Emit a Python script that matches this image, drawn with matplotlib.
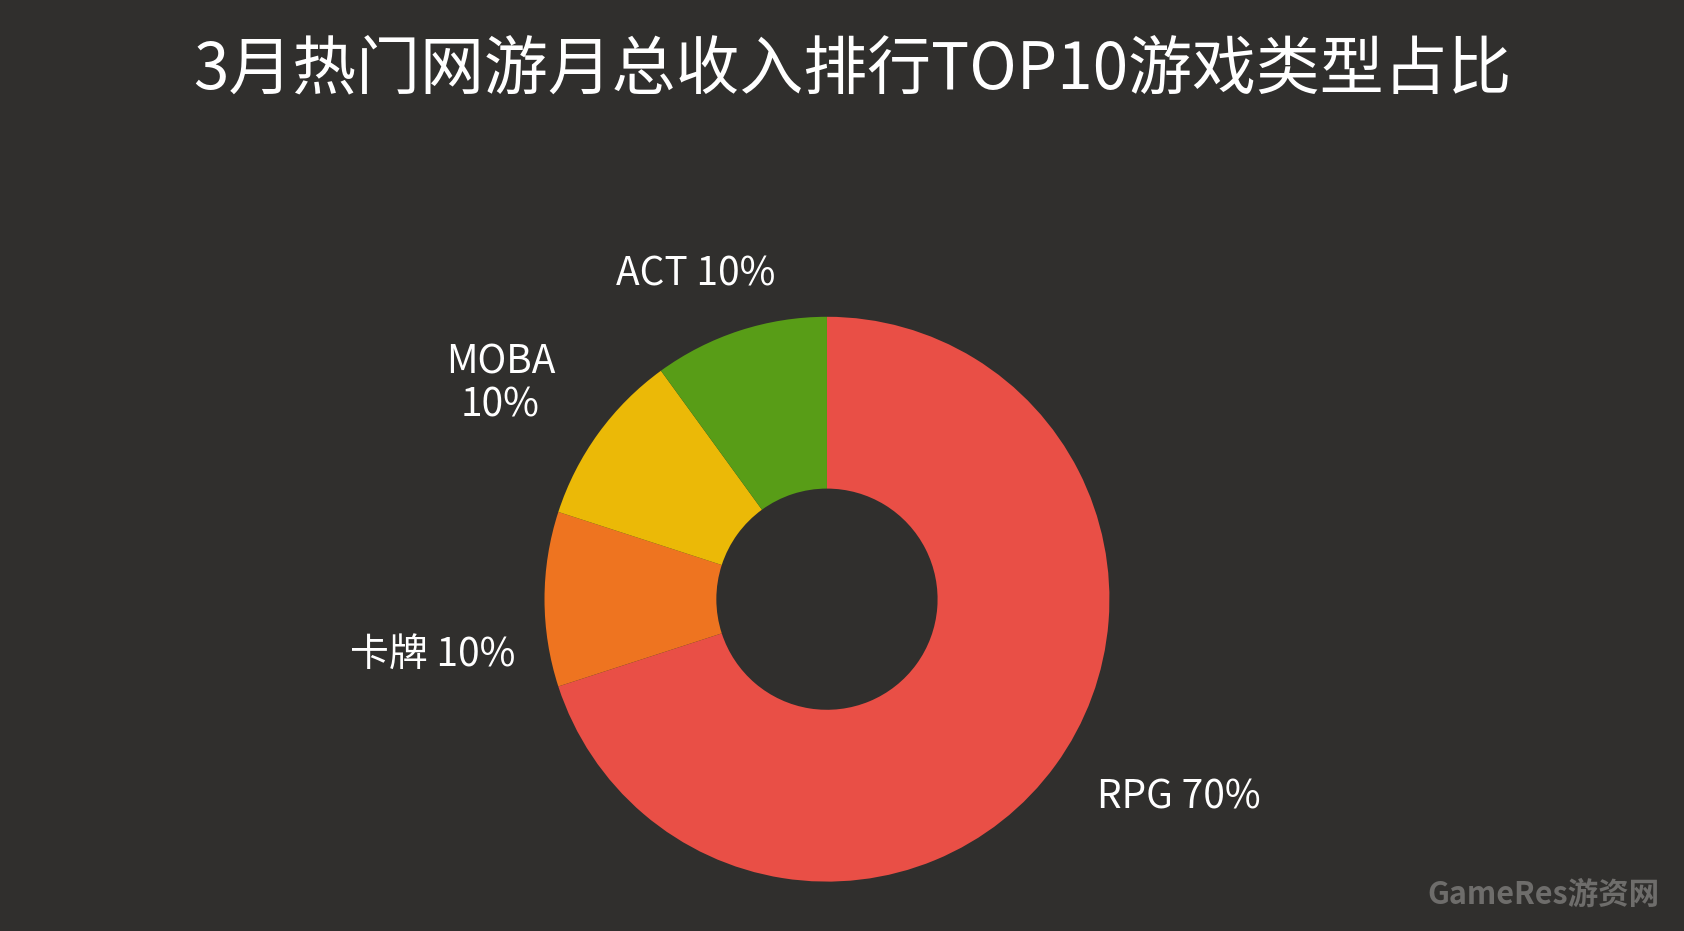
import matplotlib
matplotlib.use("Agg")
import matplotlib.pyplot as plt

categories = ["RPG", "卡牌", "MOBA", "ACT"]
values = [70, 10, 10, 10]
label_texts = ["RPG 70%", "卡牌 10%", "MOBA\n10%", "ACT 10%"]
colors = ["#E94F46", "#EE7420", "#EBB907", "#589D17"]

plt.rcParams['font.family'] = ['Noto Sans CJK SC', 'DejaVu Sans']
W, H = 1568, 867
fig = plt.figure(figsize=(16.84, 9.31), dpi=100, facecolor="#302F2D")
ax = fig.add_axes([0, 0, 1, 1])
ax.set_facecolor("#302F2D")

cx, cy = 770, H - 558
ax.pie(values, colors=colors, startangle=90, counterclock=False,
       center=(cx, cy), radius=263,
       wedgeprops=dict(width=160, edgecolor="none"), frame=True)
ax.set_xlim(0, W); ax.set_ylim(0, H); ax.axis("off")
ax.set_aspect("auto")

label_pos = [(1098, 743), (403, 610), (466, 358), (648, 256)]
for t, (x, y) in zip(label_texts, label_pos):
    ax.text(x, H - y, t, color="white", fontsize=28, ha="center", va="center",
            linespacing=1.1)

ax.text(794, H - 65, "3月热门网游月总收入排行TOP10游戏类型占比", color="white",
        fontsize=46, ha="center", va="center")
ax.text(1545, H - 833, "GameRes游资网", color="#6E6D6B", fontsize=22,
        ha="right", va="center", fontweight="bold")

fig.savefig("out.png", dpi=100, facecolor=fig.get_facecolor())
